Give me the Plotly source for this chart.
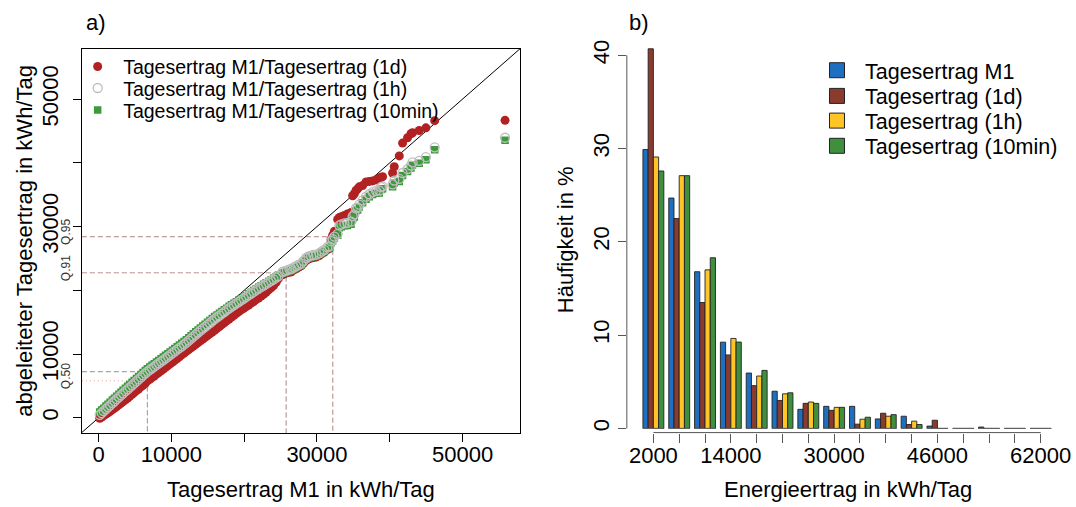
import plotly.graph_objects as go

# ---------------- a) QQ-Vergleich der Tageserträge (kWh/Tag) ----------------
m1_sorted = [
    150, 420, 700, 1010, 1290, 1580, 1900, 2180, 2470, 2790, 3080, 3360, 3690, 3990,
    4270, 4600, 4890, 5200, 5490, 5810, 6100, 6420, 6700, 7030, 7330, 7640, 7950, 8260,
    8580, 8890, 9200, 9520, 9830, 10150, 10460, 10790, 11100, 11420, 11740, 12050, 12380,
    12700, 13010, 13340, 13660, 13980, 14310, 14630, 14960, 15290, 15610, 15940, 16270,
    16600, 16930, 17260, 17590, 17930, 18260, 18600, 18930, 19270, 19600, 19940, 20280,
    20620, 20960, 21300, 21640, 21980, 22330, 22670, 23010, 23360, 23700, 24040, 24390,
    24700,
    25259, 25534, 25876, 26219, 26494, 26836, 27138, 27453, 27824, 28139, 28509, 28825,
    29195, 29510, 29881, 30333, 30676, 31019, 31430, 31704, 31938, 32157, 32390, 32843,
    33076, 33350, 33761, 34173, 34680, 34900, 35133, 35366, 35585, 35818, 36271, 36737,
    37190, 37642, 38109, 38561, 38794, 39014, 40385, 40618, 41304, 41756, 42442, 42908,
    43128, 44046, 44965, 46171, 55839,
]
ertrag_1d = [
    -80, 120, 330, 570, 770, 1000, 1270, 1520, 1760, 2050, 2290, 2540, 2820, 3110,
    3370, 3690, 3960, 4260, 4520, 4840, 5100, 5420, 5800, 6030, 6300, 6560, 6840, 7100,
    7380, 7640, 7920, 8190, 8460, 8740, 9020, 9300, 9580, 9860, 10150, 10410, 10700,
    10960, 11240, 11510, 11790, 12060, 12350, 12610, 12910, 13170, 13460, 13740, 14040,
    14310, 14610, 14900, 15200, 15490, 15800, 16080, 16390, 16650, 16920, 17170, 17440,
    17700, 17980, 18240, 18530, 18800, 19100, 19380, 19680, 20060, 20400, 20750, 21250,
    21850,
    22434, 22589, 22744, 22822, 22899, 23209, 23365, 23597, 23830, 24217, 24682, 24915,
    25070, 25148, 25225, 25458, 25767, 26000, 26388, 26543, 28016, 28636, 29256, 31117,
    31427, 31535, 31737, 31969, 32202, 34838, 35148, 35659, 35923, 36232, 36434, 37008,
    37085, 37163, 37318, 37628, 37706, 37830, 38403, 39380, 41086, 43101, 43938, 44558,
    44714, 45070, 45489, 46620, 46667,
]
ertrag_1h = [
    460, 740, 1050, 1360, 1670, 1960, 2310, 2590, 2910, 3240, 3550, 3830, 4170, 4470,
    4770, 5090, 5400, 5710, 6010, 6330, 6640, 6950, 7240, 7510, 7770, 8020, 8290, 8530,
    8810, 9060, 9330, 9590, 9870, 10130, 10410, 10680, 10950, 11210, 11500, 11780, 12110,
    12410, 12730, 13040, 13360, 13660, 13980, 14260, 14580, 14870, 15180, 15470, 15770,
    16030, 16330, 16590, 16880, 17160, 17430, 17680, 17940, 18190, 18460, 18710, 18980,
    19230, 19500, 19750, 20020, 20270, 20530, 20750, 21000, 21230, 21480, 21720, 22000,
    22220,
    22899, 23008, 23132, 23287, 23365, 23597, 23783, 23985, 24186, 24605, 25070, 25302,
    25427, 25535, 25582, 25845, 26109, 26357, 26775, 26884, 27706, 28016, 28434, 28868,
    30186, 30341, 30496, 30574, 30760, 31600, 31900, 32899, 32977, 33442, 34109, 34682,
    35070, 35411, 35613, 35659, 36190, 36310, 36620, 37210, 37473, 38403, 39024, 39566,
    40062, 40310, 40884, 42435, 43938,
]
ertrag_10min = [
    920, 1210, 1500, 1830, 2130, 2430, 2770, 3060, 3370, 3710, 4010, 4300, 4630, 4940,
    5230, 5560, 5860, 6180, 6470, 6800, 7100, 7420, 7710, 7980, 8230, 8490, 8750, 9000,
    9270, 9530, 9790, 10060, 10330, 10600, 10870, 11150, 11410, 11690, 11960, 12250, 12560,
    12870, 13170, 13480, 13790, 14090, 14400, 14680, 14980, 15280, 15570, 15870, 16140,
    16410, 16670, 16940, 17200, 17480, 17730, 17970, 18210, 18460, 18700, 18950, 19200,
    19460, 19710, 19970, 20220, 20480, 20720, 20950, 21180, 21410, 21650, 21900, 22150,
    22380,
    22666, 22775, 22899, 23054, 23132, 23364, 23550, 23752, 23953, 24372, 24837, 25069,
    25194, 25302, 25349, 25612, 25876, 26124, 26542, 26651, 27473, 27783, 28201, 28635,
    29798, 29953, 30108, 30186, 30372, 31212, 31512, 32511, 32589, 33054, 33721, 34294,
    34682, 35023, 35225, 35271, 35802, 35922, 36232, 36822, 37085, 38015, 38636, 39178,
    39674, 39922, 40496, 42047, 43550,
]

# Quantile (M1 / abgeleitet)
quant_labels = ["Q.50", "Q.91", "Q.95"]
quant_m1 = [6700, 25770, 32160]
quant_1d = [5800, 22750, 28430]
quant_sim = [7240, 22750, 28430]

xy_ticks_a = [0, 10000, 20000, 30000, 40000, 50000]
xy_ticklabels_a = ["0", "10000", "", "30000", "", "50000"]

# ---------------- b) Häufigkeitsverteilung ----------------
bin_centers = [2000, 6000, 10000, 14000, 18000, 22000, 26000, 30000,
               34000, 38000, 42000, 46000, 50000, 54000, 58000, 62000]
freq_m1 = [29.9, 24.7, 16.8, 9.25, 5.94, 3.99, 2.05, 2.37, 2.37, 1.02, 1.31, 0.25, 0, 0.15, 0, 0]
freq_1d = [40.7, 22.5, 13.5, 7.88, 4.59, 3.0, 2.69, 1.94, 0.46, 1.63, 0.42, 0.88, 0, 0, 0, 0]
freq_1h = [29.1, 27.1, 17.0, 9.65, 5.62, 3.71, 2.83, 2.26, 0.99, 1.31, 0.78, 0, 0, 0, 0, 0]
freq_10min = [27.6, 27.1, 18.3, 9.26, 6.22, 3.82, 2.69, 2.26, 1.2, 1.48, 0.42, 0, 0, 0, 0, 0]
x_ticklabels_b = ["2000", "", "", "14000", "", "", "", "30000",
                  "", "", "", "46000", "", "", "", "62000"]
y_ticks_b = [0, 10, 20, 30, 40]

# ---------------- Layout helpers ----------------
W, H = 1076, 507
FONT = "Liberation Sans, Arial, Helvetica, sans-serif"


def fx(p):
    return p / W


def fy(p):
    return 1 - p / H


XR_A = [-2304, 57897]
YR_A = [-2372, 57892]
XR_B = [-2113, 66384]
YR_B = [-0.445, 41.05]

fig = go.Figure()

# Quantile guide lines: horizontal from the left frame, vertical from the bottom frame
def guide(qx, qy):
    xs, ys = [], []
    for a, b in zip(qx, qy):
        xs += [XR_A[0], a, a, None]
        ys += [b, b, YR_A[0], None]
    return xs, ys

gx, gy = guide(quant_m1, quant_sim)
fig.add_trace(go.Scatter(x=gx, y=gy, mode="lines", showlegend=False, hoverinfo="skip",
                         line=dict(color="#a4a4a4", width=1.2, dash="5px,3px"),
                         xaxis="x", yaxis="y"))
rx, ry = guide(quant_m1, quant_1d)
fig.add_trace(go.Scatter(x=rx, y=ry, mode="lines", showlegend=False, hoverinfo="skip",
                         line=dict(color="#eaa4a4", width=1, dash="1px,3px"),
                         xaxis="x", yaxis="y"))

# 1:1 line
lim = [min(XR_A[0], YR_A[0]) - 1000, max(XR_A[1], YR_A[1]) + 1000]
fig.add_trace(go.Scatter(x=lim, y=lim, mode="lines", showlegend=False, hoverinfo="skip",
                         line=dict(color="black", width=1), xaxis="x", yaxis="y"))

fig.add_trace(go.Scatter(
    x=m1_sorted, y=ertrag_1d, mode="markers", name="Tagesertrag M1/Tagesertrag (1d)",
    marker=dict(symbol="circle", size=9, color="#B22222"),
    xaxis="x", yaxis="y", legend="legend"))
fig.add_trace(go.Scatter(
    x=m1_sorted, y=ertrag_10min, mode="markers", name="Tagesertrag M1/Tagesertrag (10min)",
    marker=dict(symbol="square", size=7.5, color="#3C9A3C"),
    xaxis="x", yaxis="y", legend="legend3"))
fig.add_trace(go.Scatter(
    x=m1_sorted, y=ertrag_1h, mode="markers", name="Tagesertrag M1/Tagesertrag (1h)",
    marker=dict(symbol="circle-open", size=9, color="#BEBEBE", line=dict(width=1.3)),
    xaxis="x", yaxis="y", legend="legend2"))

# Histogram bars
bar_series = [
    ("Tagesertrag M1", freq_m1, "#1F6FC0"),
    ("Tagesertrag (1d)", freq_1d, "#8B3A2E"),
    ("Tagesertrag (1h)", freq_1h, "#FFC425"),
    ("Tagesertrag (10min)", freq_10min, "#3F8F3F"),
]
for name, vals, col in bar_series:
    fig.add_trace(go.Bar(x=bin_centers, y=vals, name=name, showlegend=False,
                         marker=dict(color=col, line=dict(color="#222222", width=0.9)),
                         xaxis="x2", yaxis="y2"))

# outline of empty bins along zero
half = 0.81 * (bin_centers[1] - bin_centers[0]) / 2
bx, by = [], []
for c in bin_centers:
    bx += [c - half, c + half, None]
    by += [0, 0, None]
fig.add_trace(go.Scatter(x=bx, y=by, mode="lines", showlegend=False, hoverinfo="skip",
                         line=dict(color="#666666", width=1), xaxis="x2", yaxis="y2"))

# legend keys for the histogram
for i, (name, vals, col) in enumerate(bar_series):
    fig.add_trace(go.Scatter(x=[None], y=[None], mode="markers", name=name,
                             marker=dict(symbol="square", size=15, color=col,
                                         line=dict(color="#222222", width=1)),
                             xaxis="x2", yaxis="y2", legend="legend%d" % (4 + i)))

leg_common = dict(xanchor="left", yanchor="middle", bgcolor="rgba(0,0,0,0)",
                  borderwidth=0, tracegroupgap=0)
legends = {}
for i, yy in enumerate([61.5, 83.3, 105.5]):
    key = "legend" if i == 0 else "legend%d" % (i + 1)
    legends[key] = dict(x=fx(72.3), y=fy(yy), itemwidth=41,
                        font=dict(size=19.5, color="black", family=FONT), **leg_common)
for i, yy in enumerate([65, 91, 116, 141.5]):
    legends["legend%d" % (4 + i)] = dict(x=fx(810.5), y=fy(yy), itemwidth=46,
                                         font=dict(size=21.5, color="black", family=FONT),
                                         **leg_common)

tick_font = dict(size=22, color="black", family=FONT)

fig.update_layout(
    width=W, height=H, autosize=False,
    margin=dict(l=0, r=0, t=0, b=0),
    paper_bgcolor="white", plot_bgcolor="white",
    font=dict(family=FONT, color="black"),
    barmode="group", bargap=0.19, bargroupgap=0,
    xaxis=dict(domain=[fx(82), fx(521)], range=XR_A, anchor="y",
               tickvals=xy_ticks_a, ticktext=xy_ticklabels_a, tickfont=tick_font,
               ticks="outside", ticklen=8, tickwidth=1, tickcolor="black",
               ticklabelstandoff=-6,
               showline=True, mirror=True, linecolor="black", linewidth=1.4,
               showgrid=False, zeroline=False),
    yaxis=dict(domain=[fy(432), fy(43.3)], range=YR_A, anchor="x",
               tickvals=xy_ticks_a, ticktext=xy_ticklabels_a, tickfont=tick_font,
               tickangle=-90, ticks="outside", ticklen=8, tickwidth=1, tickcolor="black",
               ticklabelstandoff=6,
               showline=True, mirror=True, linecolor="black", linewidth=1.4,
               showgrid=False, zeroline=False),
    xaxis2=dict(domain=[fx(628), fx(1071)], range=XR_B, anchor="y2",
                tickvals=bin_centers, ticktext=x_ticklabels_b, tickfont=tick_font,
                ticks="outside", ticklen=9, tickwidth=1, tickcolor="#555555",
                ticklabelstandoff=-6,
                showline=False, showgrid=False, zeroline=False),
    yaxis2=dict(domain=[fy(431.7), fy(40)], range=YR_B, anchor="x2",
                tickvals=y_ticks_b, tickfont=tick_font, tickangle=-90,
                ticks="outside", ticklen=8, tickwidth=1, tickcolor="#555555",
                showline=False, showgrid=False, zeroline=False),
    **legends,
)

# R-style axis lines spanning only the tick range
fig.add_shape(type="line", xref="x2 domain", yref="y2", x0=0, x1=0,
              y0=y_ticks_b[0], y1=y_ticks_b[-1], line=dict(color="#555555", width=1))
fig.add_shape(type="line", xref="x2", yref="y2 domain", x0=bin_centers[0], x1=bin_centers[-1],
              y0=0, y1=0, line=dict(color="#555555", width=1))

ann = []
def text(xp, yp, s, size=22, angle=0, color="black"):
    ann.append(dict(x=fx(xp), y=fy(yp), xref="paper", yref="paper", text=s,
                    showarrow=False, textangle=angle, xanchor="center", yanchor="middle",
                    font=dict(size=size, color=color, family=FONT)))

text(96, 17, "a)")
text(640, 17, "b)")
text(301.5, 489, "Tagesertrag M1 in kWh/Tag")
text(849.5, 489, "Energieertrag in kWh/Tag")
text(25, 237.7, "abgeleiteter Tagesertrag in kWh/Tag", angle=-90)
text(566, 236, "Häufigkeit in %", angle=-90)

for lab, qv in zip(quant_labels, quant_1d):
    ann.append(dict(x=fx(65.5), xref="paper", y=qv, yref="y", yshift=5, text=lab,
                    showarrow=False, textangle=-90, xanchor="center", yanchor="middle",
                    font=dict(size=12, color="#333333", family=FONT)))

fig.update_layout(annotations=ann)

fig.write_html("out.html")
